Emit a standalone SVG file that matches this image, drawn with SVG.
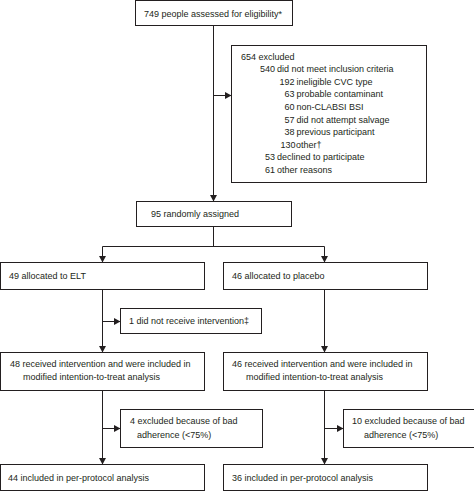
<svg xmlns="http://www.w3.org/2000/svg" width="474" height="491" viewBox="0 0 474 491">
<style>
.box{fill:#fff;stroke:#231f20;stroke-width:1}
.ln{fill:none;stroke:#231f20;stroke-width:1}
text{font-family:"Liberation Sans",Arial,sans-serif;font-size:9px;fill:#231f20}
.e{text-anchor:end}
</style>
<defs>
<marker id="ah" markerWidth="7" markerHeight="7" refX="6" refY="3.5" orient="auto" markerUnits="userSpaceOnUse">
<path d="M0,0 L6.5,3.5 L0,7 Z" fill="#231f20"/>
</marker>
</defs>
<rect width="474" height="491" fill="#fff"/>
<g id="connectors">
<path class="ln" d="M213.5 25.5 V201" marker-end="url(#ah)"/>
<path class="ln" d="M213.5 95.5 H231" marker-end="url(#ah)"/>
<path class="ln" d="M213.5 226.5 V246.5 M102.5 246.5 H324.5"/>
<path class="ln" d="M102.5 246.5 V262" marker-end="url(#ah)"/>
<path class="ln" d="M324.5 246.5 V262" marker-end="url(#ah)"/>
<path class="ln" d="M102.5 289.5 V352" marker-end="url(#ah)"/>
<path class="ln" d="M102.5 321.5 H120" marker-end="url(#ah)"/>
<path class="ln" d="M324.5 289.5 V352" marker-end="url(#ah)"/>
<path class="ln" d="M102.5 390.5 V464" marker-end="url(#ah)"/>
<path class="ln" d="M102.5 428.5 H120" marker-end="url(#ah)"/>
<path class="ln" d="M324.5 390.5 V464" marker-end="url(#ah)"/>
<path class="ln" d="M324.5 428.5 H343" marker-end="url(#ah)"/>
</g>
<g id="assessed">
<rect class="box" x="135.5" y="0.5" width="157" height="25"/>
<text x="144" y="17">749 people assessed for eligibility*</text>
</g>
<g id="excluded">
<rect class="box" x="231.5" y="45.5" width="195" height="137"/>
<text x="241" y="59.5">654 excluded</text>
<text class="e" x="275" y="72.1">540</text><text x="277" y="72.1">did not meet inclusion criteria</text>
<text class="e" x="294.5" y="84.7">192</text><text x="296.5" y="84.7">ineligible CVC type</text>
<text class="e" x="294.5" y="97.3">63</text><text x="296.5" y="97.3">probable contaminant</text>
<text class="e" x="294.5" y="109.9">60</text><text x="296.5" y="109.9">non-CLABSI BSI</text>
<text class="e" x="294.5" y="122.5">57</text><text x="296.5" y="122.5">did not attempt salvage</text>
<text class="e" x="294.5" y="135.1">38</text><text x="296.5" y="135.1">previous participant</text>
<text class="e" x="295.5" y="147.7">130</text><text x="296" y="147.7">other†</text>
<text class="e" x="275" y="160.3">53</text><text x="277" y="160.3">declined to participate</text>
<text class="e" x="275" y="172.9">61</text><text x="277" y="172.9">other reasons</text>
</g>
<g id="randomised">
<rect class="box" x="136.5" y="201.5" width="155" height="25"/>
<text x="151" y="217">95 randomly assigned</text>
</g>
<g id="elt">
<rect class="box" x="0.5" y="262.5" width="204" height="27"/>
<text x="9" y="279">49 allocated to ELT</text>
</g>
<g id="placebo">
<rect class="box" x="223.5" y="262.5" width="204" height="27"/>
<text x="232" y="279">46 allocated to placebo</text>
</g>
<g id="no-intervention">
<rect class="box" x="120.5" y="308.5" width="141" height="25"/>
<text x="129" y="324">1 did not receive intervention‡</text>
</g>
<g id="mitt-elt">
<rect class="box" x="0.5" y="352.5" width="204" height="38"/>
<text x="10" y="367">48 received intervention and were included in</text>
<text x="23" y="379.5">modified intention-to-treat analysis</text>
</g>
<g id="mitt-placebo">
<rect class="box" x="223.5" y="352.5" width="204" height="38"/>
<text x="232" y="367">46 received intervention and were included in</text>
<text x="246" y="379.5">modified intention-to-treat analysis</text>
</g>
<g id="excl-elt">
<rect class="box" x="120.5" y="409.5" width="142" height="38"/>
<text x="130" y="424">4 excluded because of bad</text>
<text x="137" y="438">adherence (&lt;75%)</text>
</g>
<g id="excl-placebo">
<rect class="box" x="343.5" y="409.5" width="131" height="38"/>
<text x="352" y="424">10 excluded because of bad</text>
<text x="364" y="438">adherence (&lt;75%)</text>
</g>
<g id="pp-elt">
<rect class="box" x="0.5" y="464.5" width="204" height="26"/>
<text x="8" y="480.5">44 included in per-protocol analysis</text>
</g>
<g id="pp-placebo">
<rect class="box" x="223.5" y="464.5" width="204" height="26"/>
<text x="232" y="480.5">36 included in per-protocol analysis</text>
</g>
</svg>
